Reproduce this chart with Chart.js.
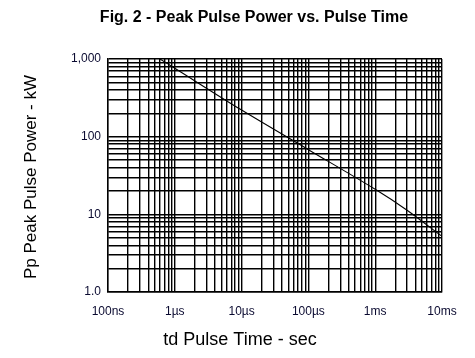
<!DOCTYPE html>
<html>
<head>
<meta charset="utf-8">
<script src="https://cdn.jsdelivr.net/npm/chart.js@4.4.1/dist/chart.umd.min.js"></script>
<style>
  html, body { margin: 0; padding: 0; background: #fff; }
  #wrap { width: 475px; height: 358px; }
</style>
</head>
<body>
<div id="wrap"><canvas id="pulseChart" width="475" height="358"></canvas></div>
<script>
// curve
const pulseTime = [0.6e-6, 1e-6, 10e-6, 100e-6, 1e-3, 3e-3, 10e-3];   // seconds
const peakPower = [1000, 760, 220, 68, 21, 11.3, 5.2];                // kW

// axis decades + their labels
const xDecades = [1e-7, 1e-6, 1e-5, 1e-4, 1e-3, 1e-2];
const xLabels = ['100ns', '1\u00b5s', '10\u00b5s', '100\u00b5s', '1ms', '10ms'];
const yDecades = [1, 10, 100, 1000];
const yLabels = ['1.0', '10', '100', '1,000'];
const steps = [1, 2, 3, 4, 5, 6, 7, 8, 9];

const FONT = '"Liberation Sans", Arial, sans-serif';
const TICK_COLOR = '#0a0a30';

const gridValues = decades => {
  const out = [];
  decades.forEach((d, i) => {
    if (i === decades.length - 1) { out.push(d); return; }
    steps.forEach(s => out.push(d * s));
  });
  return out;
};

const labelFor = (decades, labels) => value => {
  const i = decades.findIndex(d => Math.abs(value - d) / d < 1e-6);
  return i >= 0 ? labels[i] : '';
};

// titles placed by hand to match the figure
const titlesPlugin = {
  id: 'titles',
  afterDraw(chart) {
    const ctx = chart.ctx;
    ctx.save();
    ctx.fillStyle = '#000';
    ctx.textAlign = 'center';
    ctx.textBaseline = 'middle';
    ctx.font = 'bold 16px ' + FONT;
    ctx.fillText('Fig. 2 - Peak Pulse Power vs. Pulse Time', 254, 18);
    ctx.font = '18px ' + FONT;
    ctx.fillText('td Pulse Time - sec', 240, 340);
    ctx.font = '17px ' + FONT;
    ctx.translate(31, 177);
    ctx.rotate(-Math.PI / 2);
    ctx.fillText('Pp Peak Pulse Power - kW', 0, 0);
    ctx.restore();
  }
};

new Chart(document.getElementById('pulseChart'), {
  type: 'line',
  data: {
    datasets: [{
      data: pulseTime.map((t, i) => ({ x: t, y: peakPower[i] })),
      borderColor: '#000',
      borderWidth: 1.1,
      pointRadius: 0,
      tension: 0.3,
      fill: false
    }]
  },
  options: {
    responsive: false,
    animation: false,
    layout: { padding: { top: 59, right: 33, bottom: 0, left: 0 } },
    plugins: { legend: { display: false }, tooltip: { enabled: false } },
    scales: {
      x: {
        type: 'logarithmic',
        min: 1e-7,
        max: 1e-2,
        afterBuildTicks: s => { s.ticks = gridValues(xDecades).map(v => ({ value: v })); },
        afterFit: s => { s.height = 66; },
        grid: { color: '#000', lineWidth: 1.4, drawTicks: false },
        border: { color: '#000', width: 1.4 },
        ticks: {
          autoSkip: false,
          maxRotation: 0,
          padding: 12,
          color: TICK_COLOR,
          font: { family: FONT, size: 12 },
          callback: labelFor(xDecades, xLabels)
        }
      },
      y: {
        type: 'logarithmic',
        min: 1,
        max: 1000,
        afterBuildTicks: s => { s.ticks = gridValues(yDecades).map(v => ({ value: v })); },
        afterFit: s => { s.width = 108; },
        grid: { color: '#000', lineWidth: 1.4, drawTicks: false },
        border: { color: '#000', width: 1.4 },
        ticks: {
          autoSkip: false,
          padding: 7,
          color: TICK_COLOR,
          font: { family: FONT, size: 12 },
          callback: labelFor(yDecades, yLabels)
        }
      }
    }
  },
  plugins: [titlesPlugin]
});
</script>
</body>
</html>
